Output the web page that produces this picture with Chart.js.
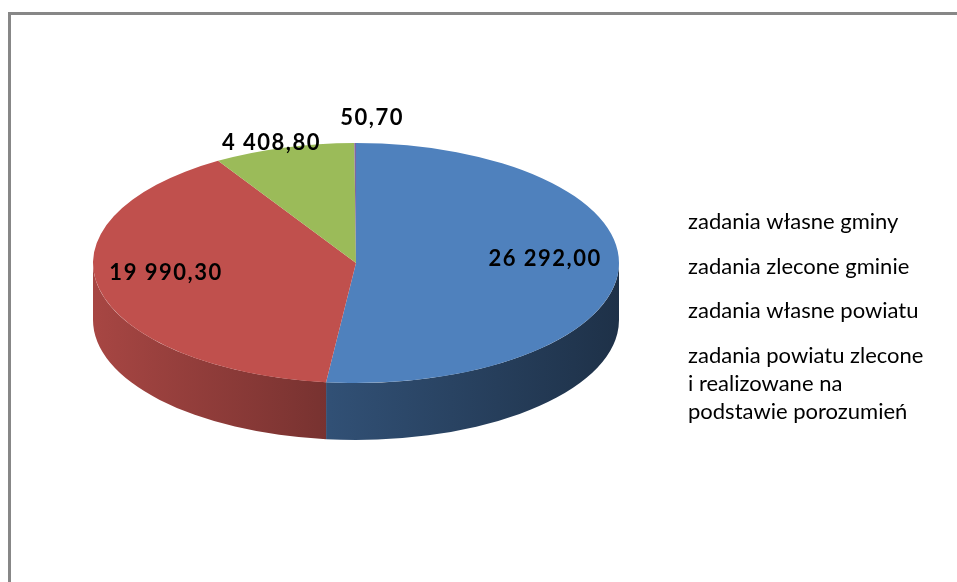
<!DOCTYPE html>
<html><head><meta charset="utf-8">
<script src="https://cdn.jsdelivr.net/npm/chart.js@4.4.0/dist/chart.umd.min.js"></script>
<style>
html,body{margin:0;padding:0;width:957px;height:582px;overflow:hidden;background:#fff}
#frame{position:absolute;left:8px;top:12px;width:1000px;height:700px;border-left:3px solid #878787;border-top:3px solid #878787;box-sizing:border-box}
#wrap{position:absolute;left:0;top:0;width:957px;height:582px}
</style></head><body>
<div id="frame"></div>
<div id="wrap"><canvas id="c"></canvas></div>
<script>
// ---- data ----
const categories = [
  'zadania własne gminy',
  'zadania zlecone gminie',
  'zadania własne powiatu',
  ['zadania powiatu zlecone', 'i realizowane na', 'podstawie porozumień']
];
const values = [26292.00, 19990.30, 4408.80, 50.70];
const colors = ['#4F81BD', '#C0504D', '#9BBB59', '#8064A2'];

function fmtPL(v){
  const [i, d] = v.toFixed(2).split('.');
  return i.replace(/\B(?=(\d{3})+(?!\d))/g, ' ') + ',' + d;
}

// ---- style ----
const TILT = 120/263;     // vertical squash of the pie
const DEPTH = 57;         // thickness of the 3D side
const labelAnchor = [
  {f:0.72, dx:0,   dy:-9},
  {f:0.74, dx:0,   dy:-9},
  {f:1.00, dx:-12, dy:-5},
  {f:1.00, dx:17,  dy:-25}
];
const legendX = 688, legendY0 = 229, legendStep = 44.5, legendLine = 28;

function shade(hex, f){
  const n = parseInt(hex.slice(1), 16);
  const r = (n>>16)&255, g = (n>>8)&255, b = n&255;
  return 'rgb(' + Math.round(r*f) + ',' + Math.round(g*f) + ',' + Math.round(b*f) + ')';
}

const pie3d = {
  id: 'pie3d',
  beforeDatasetsDraw(chart){
    const ctx = chart.ctx;
    const arcs = chart.getDatasetMeta(0).data;
    const c = arcs[0].getProps(['x','y','outerRadius'], true);
    const cx = c.x, cy = c.y, rx = c.outerRadius, ry = rx*TILT;
    ctx.save();
    arcs.forEach((arc, i) => {
      const p = arc.getProps(['startAngle','endAngle'], true);
      const col = chart.data.datasets[0].backgroundColor[i];
      for (let k = -1; k <= 1; k++){
        const lo = Math.max(p.startAngle, 2*Math.PI*k);
        const hi = Math.min(p.endAngle, Math.PI + 2*Math.PI*k);
        if (hi > lo){
          const g = ctx.createLinearGradient(cx-rx, 0, cx+rx, 0);
          g.addColorStop(0, shade(col, 0.87));
          g.addColorStop(0.45, shade(col, 0.62));
          g.addColorStop(1, shade(col, 0.38));
          ctx.beginPath();
          ctx.ellipse(cx, cy, rx, ry, 0, lo, hi, false);
          ctx.ellipse(cx, cy+DEPTH, rx, ry, 0, hi, lo, true);
          ctx.closePath();
          ctx.fillStyle = g;
          ctx.fill();
        }
      }
    });
    ctx.restore();
    ctx.save();
    ctx.translate(0, cy); ctx.scale(1, TILT); ctx.translate(0, -cy);
  },
  afterDatasetsDraw(chart){
    const ctx = chart.ctx;
    ctx.restore();
    const arcs = chart.getDatasetMeta(0).data;
    const vals = chart.data.datasets[0].data;
    ctx.save();
    ctx.fillStyle = '#000';
    ctx.font = 'bold 22px Lato';
    ctx.letterSpacing = '1.5px';
    ctx.textAlign = 'center';
    ctx.textBaseline = 'middle';
    arcs.forEach((arc, i) => {
      const p = arc.getProps(['x','y','startAngle','endAngle','outerRadius'], true);
      const m = (p.startAngle + p.endAngle)/2;
      const a = labelAnchor[i];
      const x = p.x + a.f*p.outerRadius*Math.cos(m) + a.dx;
      const y = p.y + a.f*p.outerRadius*TILT*Math.sin(m) + a.dy;
      ctx.fillText(fmtPL(vals[i]), x, y);
    });
    ctx.restore();
    // legend (text only, as in the original)
    ctx.save();
    ctx.fillStyle = '#000';
    ctx.font = '22px Lato';
    ctx.textAlign = 'left';
    ctx.textBaseline = 'alphabetic';
    let y = legendY0;
    chart.data.labels.forEach((lab) => {
      const lines = Array.isArray(lab) ? lab : [lab];
      lines.forEach((ln, j) => ctx.fillText(ln, legendX, y + j*legendLine));
      y += legendStep + (lines.length-1)*legendLine;
    });
    ctx.restore();
  }
};

new Chart(document.getElementById('c'), {
  type: 'pie',
  data: {
    labels: categories,
    datasets: [{ data: values, backgroundColor: colors, borderWidth: 0 }]
  },
  options: {
    responsive: true,
    maintainAspectRatio: false,
    animation: false,
    events: [],
    layout: { padding: { left: 93, right: 338, top: 0, bottom: 56 } },
    plugins: { legend: { display: false }, tooltip: { enabled: false } }
  },
  plugins: [pie3d]
});
</script>
</body></html>
